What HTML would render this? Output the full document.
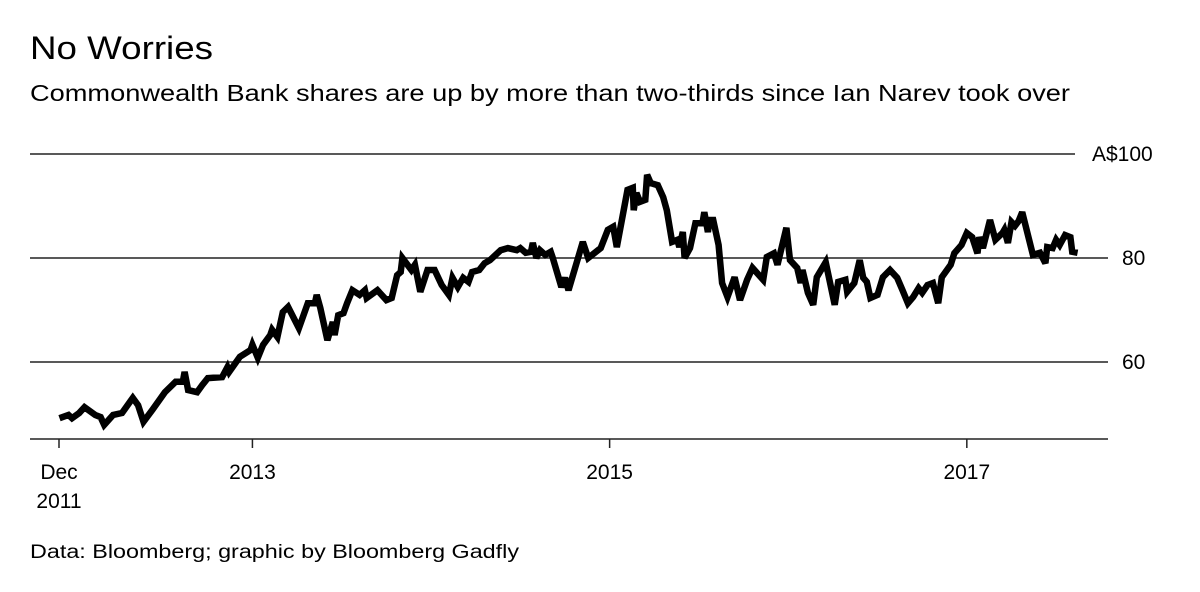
<!DOCTYPE html>
<html><head><meta charset="utf-8"><style>
body{margin:0;background:#fff;}
svg text{font-family:"Liberation Sans",sans-serif;fill:#000;}
</style></head><body>
<svg width="1200" height="587" viewBox="0 0 1200 587">
<text x="30" y="59" font-size="32" textLength="183" lengthAdjust="spacingAndGlyphs">No Worries</text>
<text x="30" y="101" font-size="23" textLength="1040" lengthAdjust="spacingAndGlyphs">Commonwealth Bank shares are up by more than two-thirds since Ian Narev took over</text>
<g id="grid"></g>
<g id="xaxis"></g>
<path id="line" fill="none" stroke="#000" stroke-width="6.5" stroke-linejoin="miter" stroke-miterlimit="3"></path>
<text x="30" y="558" font-size="19" textLength="489" lengthAdjust="spacingAndGlyphs">Data: Bloomberg; graphic by Bloomberg Gadfly</text>
</svg>
<script>
const dates=[2011.92,2011.97,2011.99,2012.03,2012.06,2012.12,2012.15,2012.17,2012.22,2012.27,2012.33,2012.36,2012.39,2012.44,2012.51,2012.57,2012.61,2012.62,2012.64,2012.69,2012.72,2012.75,2012.83,2012.86,2012.87,2012.93,2012.99,2013.00,2013.03,2013.06,2013.10,2013.11,2013.14,2013.17,2013.20,2013.26,2013.31,2013.35,2013.36,2013.38,2013.42,2013.45,2013.46,2013.48,2013.51,2013.53,2013.56,2013.60,2013.63,2013.64,2013.70,2013.75,2013.78,2013.81,2013.83,2013.84,2013.89,2013.91,2013.94,2013.98,2014.02,2014.06,2014.10,2014.12,2014.15,2014.18,2014.21,2014.23,2014.27,2014.30,2014.33,2014.39,2014.43,2014.48,2014.50,2014.53,2014.56,2014.57,2014.59,2014.61,2014.64,2014.67,2014.68,2014.73,2014.75,2014.77,2014.85,2014.88,2014.95,2014.99,2015.02,2015.04,2015.10,2015.13,2015.135,2015.15,2015.17,2015.20,2015.21,2015.23,2015.27,2015.30,2015.32,2015.35,2015.38,2015.39,2015.41,2015.42,2015.45,2015.48,2015.52,2015.53,2015.55,2015.56,2015.58,2015.61,2015.63,2015.66,2015.70,2015.73,2015.77,2015.80,2015.86,2015.88,2015.92,2015.94,2015.99,2016.01,2016.05,2016.07,2016.08,2016.11,2016.14,2016.16,2016.21,2016.26,2016.28,2016.32,2016.33,2016.37,2016.40,2016.42,2016.44,2016.46,2016.50,2016.53,2016.57,2016.61,2016.64,2016.67,2016.70,2016.73,2016.75,2016.78,2016.81,2016.84,2016.86,2016.91,2016.93,2016.97,2017.00,2017.03,2017.06,2017.07,2017.09,2017.13,2017.16,2017.20,2017.21,2017.23,2017.25,2017.27,2017.29,2017.31,2017.37,2017.41,2017.44,2017.45,2017.48,2017.50,2017.52,2017.55,2017.58,2017.59,2017.62];
const prices=[49.2,49.8,49.2,50.2,51.3,49.8,49.4,47.9,49.8,50.2,53.1,51.7,48.5,50.8,54.2,56.2,56.2,58.1,54.6,54.2,55.6,56.9,57.1,59.0,58.1,61.0,62.3,63.3,60.8,63.3,65.2,66.2,64.8,69.6,70.6,66.5,71.3,71.3,72.9,70.4,64.2,67.7,65.2,69.0,69.4,71.3,73.8,72.9,73.8,72.3,73.8,71.9,72.3,76.7,77.3,80.0,77.7,78.7,73.5,77.7,77.7,74.8,72.9,76.2,74.4,76.2,75.4,77.3,77.7,79.0,79.6,81.5,81.9,81.5,81.9,81.0,81.2,82.9,80.0,81.5,80.6,81.2,80.2,74.4,76.2,73.8,83.1,80.0,81.9,85.4,86.0,82.1,93.1,93.5,89.2,92.5,90.8,91.2,96.0,94.4,94.0,91.7,89.2,83.1,83.5,82.1,85.0,80.0,81.9,86.7,86.7,88.8,85.0,87.3,87.3,82.5,75.2,72.5,76.3,71.9,75.8,78.1,75.8,80.2,80.9,78.7,85.8,79.6,78.1,75.2,77.7,73.3,71.0,76.3,79.2,71.0,75.4,75.8,73.5,75.2,79.6,76.2,75.4,72.3,72.9,76.3,77.7,76.2,73.8,71.3,72.5,74.2,73.3,74.8,75.2,71.3,76.3,78.7,80.9,82.5,84.8,84.0,80.9,84.0,81.9,87.3,83.5,84.8,85.4,82.9,86.9,86.2,87.1,88.8,80.6,81.0,79.0,82.1,81.9,83.5,82.5,84.4,84.0,81.2,81.0];
const yTicks=[100,80,60];
const yTickLabels=["A$100","80","60"];
const xTicks=[2011.917,2013,2015,2017];
const xTickLabels=[["Dec","2011"],["2013"],["2015"],["2017"]];

const NS="http://www.w3.org/2000/svg";
function xs(t){return 59+(t-2011.917)*178.6;}
function ys(v){return 258-(v-80)*5.2;}
function mk(tag,attrs,parent){const e=document.createElementNS(NS,tag);for(const k in attrs)e.setAttribute(k,attrs[k]);parent.appendChild(e);return e;}
const grid=document.getElementById('grid');
yTicks.forEach((v,i)=>{
  const y=ys(v);
  const l=mk('line',{x1:30,x2:i===0?1075:1108,y1:y,y2:y,stroke:'#222','stroke-width':1.5},grid);
  
  
  const t=mk('text',{x:i===0?1092:1122,y:y+7,'font-size':21},grid);
  t.textContent=yTickLabels[i];
  
  
});
const xa=document.getElementById('xaxis');
const ax=mk('line',{x1:30,x2:1108,y1:439,y2:439,stroke:'#222','stroke-width':1.5},xa);


xTicks.forEach((t,i)=>{
  const x=xs(t);
  const tk=mk('line',{x1:x,x2:x,y1:439,y2:448,stroke:'#222','stroke-width':1.5},xa);
  
  
  xTickLabels[i].forEach((s,j)=>{
    const tx=mk('text',{x:x,y:479+j*29,'font-size':21,'text-anchor':'middle'},xa);
    tx.textContent=s;
    
    
  });
});
document.getElementById('line').setAttribute('d',dates.map((t,i)=>(i?'L':'M')+xs(t).toFixed(1)+','+ys(prices[i]).toFixed(1)).join(''));
</script>
</body></html>
